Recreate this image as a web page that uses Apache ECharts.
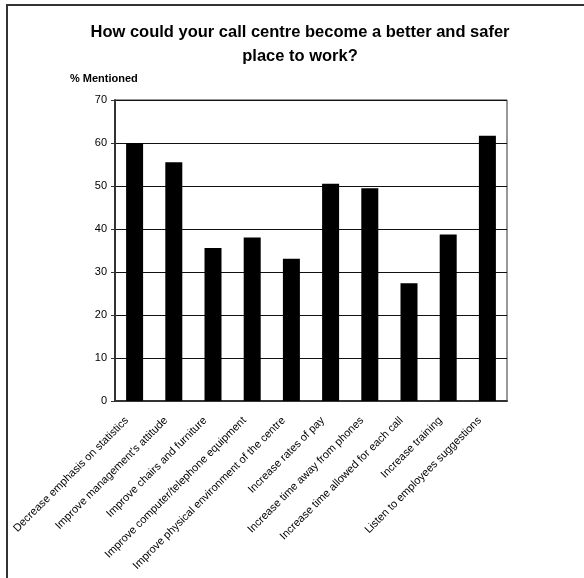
<!DOCTYPE html>
<html>
<head>
<meta charset="utf-8">
<script src="https://cdn.jsdelivr.net/npm/echarts@6/dist/echarts.min.js"></script>
<style>
  html, body { margin: 0; padding: 0; background: #fff; }
  #chart { width: 584px; height: 578px; }
</style>
</head>
<body>
<div id="chart"></div>
<script>
// Survey responses: share of respondents mentioning each improvement
const categories = [
  'Decrease emphasis on statistics',
  "Improve management's attitude",
  'Improve chairs and furniture',
  'Improve computer/telephone equipment',
  'Improve physical environment of the centre',
  'Increase rates of pay',
  'Increase time away from phones',
  'Increase time allowed for each call',
  'Increase training',
  'Listen to employees suggestions'
];
const mentioned = [60.0, 55.5, 35.6, 38.0, 33.1, 50.5, 49.5, 27.4, 38.7, 61.7];
const yTicks = { min: 0, max: 70, interval: 10 };
const titleText = 'How could your call centre become a better and safer\nplace to work?';
const yAxisTitle = '% Mentioned';

const FONT = '"Liberation Sans", Arial, Helvetica, sans-serif';

const chart = echarts.init(document.getElementById('chart'), null, { renderer: 'canvas' });

chart.setOption({
  backgroundColor: '#fff',
  animation: false,
  graphic: [
    {
      type: 'rect',
      silent: true,
      shape: { x: 7, y: 5, width: 640, height: 640 },
      style: { fill: 'none', stroke: '#333', lineWidth: 2 }
    },
    {
      type: 'text',
      x: 300, y: 20,
      style: {
        text: titleText,
        font: 'bold 16.5px ' + FONT,
        fill: '#000',
        align: 'center',
        verticalAlign: 'top',
        lineHeight: 24
      }
    },
    {
      type: 'text',
      x: 70, y: 73,
      style: {
        text: yAxisTitle,
        font: 'bold 11px ' + FONT,
        fill: '#000',
        align: 'left',
        verticalAlign: 'top'
      }
    }
  ],
  grid: {
    left: 115, right: 77, top: 100, bottom: 177,
    show: true,
    borderColor: '#333',
    borderWidth: 1,
    containLabel: false
  },
  xAxis: {
    type: 'category',
    data: categories,
    axisLine: { lineStyle: { color: '#333', width: 2 } },
    axisTick: { show: false },
    axisLabel: {
      interval: 0,
      rotate: 45,
      margin: 10,
      padding: [0, 11, 0, 0],
      fontSize: 11,
      fontFamily: FONT,
      color: '#000'
    }
  },
  yAxis: {
    type: 'value',
    min: yTicks.min,
    max: yTicks.max,
    interval: yTicks.interval,
    axisLine: { show: true, lineStyle: { color: '#333', width: 2 } },
    axisTick: { show: true, length: 4, lineStyle: { color: '#333' } },
    axisLabel: { fontSize: 11, fontFamily: FONT, color: '#000', margin: 8 },
    splitLine: { show: true, lineStyle: { color: '#111', width: 1 } }
  },
  series: [
    {
      type: 'bar',
      data: mentioned,
      barWidth: 17,
      itemStyle: { color: '#000' }
    }
  ]
});
</script>
</body>
</html>
